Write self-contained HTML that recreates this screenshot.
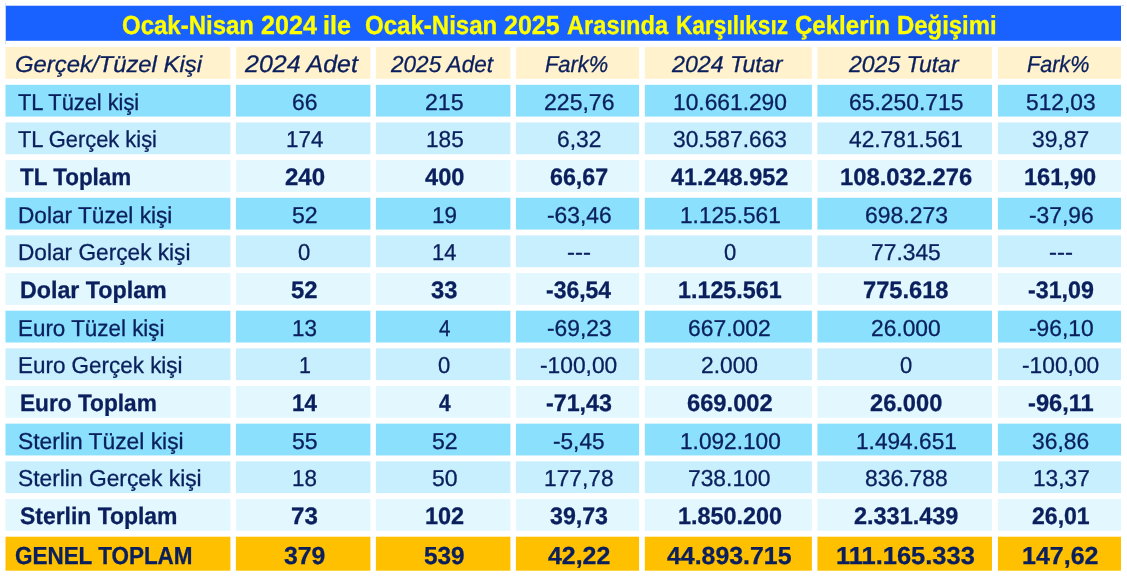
<!DOCTYPE html>
<html><head><meta charset="utf-8"><title>Karşılıksız Çekler</title>
<style>
html,body{margin:0;padding:0;background:#fff;}
body{width:1127px;height:576px;position:relative;overflow:hidden;font-family:"Liberation Sans",sans-serif;color:#0a1f5c;text-rendering:geometricPrecision;}
.c{position:absolute;}
.t{position:absolute;white-space:nowrap;line-height:0;height:0;width:0;}
.t span{position:absolute;left:0;white-space:nowrap;}
#tx{position:absolute;left:0;top:0;width:1127px;height:576px;will-change:transform;-webkit-text-stroke:0.3px currentColor;}
</style></head><body>

<svg class="c" style="left:0;top:0" width="1127" height="576" viewBox="0 0 1127 576"><rect x="5.00" y="5.00" width="1119.00" height="1.00" fill="#d2e0ff"/><rect x="5.00" y="3.00" width="1.00" height="41.00" fill="#d2e0ff"/><rect x="5.90" y="5.90" width="1115.10" height="34.90" fill="#1a62ff"/><rect x="5.50" y="47.00" width="224.90" height="31.80" fill="#fff2cc"/><rect x="235.90" y="47.00" width="134.50" height="31.80" fill="#fff2cc"/><rect x="375.90" y="47.00" width="134.50" height="31.80" fill="#fff2cc"/><rect x="515.90" y="47.00" width="123.20" height="31.80" fill="#fff2cc"/><rect x="644.80" y="47.00" width="167.10" height="31.80" fill="#fff2cc"/><rect x="817.40" y="47.00" width="174.60" height="31.80" fill="#fff2cc"/><rect x="997.90" y="47.00" width="123.10" height="31.80" fill="#fff2cc"/><rect x="5.50" y="84.80" width="224.90" height="31.80" fill="#8ae0fd"/><rect x="235.90" y="84.80" width="134.50" height="31.80" fill="#8ae0fd"/><rect x="375.90" y="84.80" width="134.50" height="31.80" fill="#8ae0fd"/><rect x="515.90" y="84.80" width="123.20" height="31.80" fill="#8ae0fd"/><rect x="644.80" y="84.80" width="167.10" height="31.80" fill="#8ae0fd"/><rect x="817.40" y="84.80" width="174.60" height="31.80" fill="#8ae0fd"/><rect x="997.90" y="84.80" width="123.10" height="31.80" fill="#8ae0fd"/><rect x="5.50" y="122.45" width="224.90" height="31.80" fill="#c8effe"/><rect x="235.90" y="122.45" width="134.50" height="31.80" fill="#c8effe"/><rect x="375.90" y="122.45" width="134.50" height="31.80" fill="#c8effe"/><rect x="515.90" y="122.45" width="123.20" height="31.80" fill="#c8effe"/><rect x="644.80" y="122.45" width="167.10" height="31.80" fill="#c8effe"/><rect x="817.40" y="122.45" width="174.60" height="31.80" fill="#c8effe"/><rect x="997.90" y="122.45" width="123.10" height="31.80" fill="#c8effe"/><rect x="5.50" y="160.10" width="224.90" height="31.80" fill="#e2f7fe"/><rect x="235.90" y="160.10" width="134.50" height="31.80" fill="#e2f7fe"/><rect x="375.90" y="160.10" width="134.50" height="31.80" fill="#e2f7fe"/><rect x="515.90" y="160.10" width="123.20" height="31.80" fill="#e2f7fe"/><rect x="644.80" y="160.10" width="167.10" height="31.80" fill="#e2f7fe"/><rect x="817.40" y="160.10" width="174.60" height="31.80" fill="#e2f7fe"/><rect x="997.90" y="160.10" width="123.10" height="31.80" fill="#e2f7fe"/><rect x="5.50" y="197.75" width="224.90" height="31.80" fill="#8ae0fd"/><rect x="235.90" y="197.75" width="134.50" height="31.80" fill="#8ae0fd"/><rect x="375.90" y="197.75" width="134.50" height="31.80" fill="#8ae0fd"/><rect x="515.90" y="197.75" width="123.20" height="31.80" fill="#8ae0fd"/><rect x="644.80" y="197.75" width="167.10" height="31.80" fill="#8ae0fd"/><rect x="817.40" y="197.75" width="174.60" height="31.80" fill="#8ae0fd"/><rect x="997.90" y="197.75" width="123.10" height="31.80" fill="#8ae0fd"/><rect x="5.50" y="235.40" width="224.90" height="31.80" fill="#c8effe"/><rect x="235.90" y="235.40" width="134.50" height="31.80" fill="#c8effe"/><rect x="375.90" y="235.40" width="134.50" height="31.80" fill="#c8effe"/><rect x="515.90" y="235.40" width="123.20" height="31.80" fill="#c8effe"/><rect x="644.80" y="235.40" width="167.10" height="31.80" fill="#c8effe"/><rect x="817.40" y="235.40" width="174.60" height="31.80" fill="#c8effe"/><rect x="997.90" y="235.40" width="123.10" height="31.80" fill="#c8effe"/><rect x="5.50" y="273.05" width="224.90" height="31.80" fill="#e2f7fe"/><rect x="235.90" y="273.05" width="134.50" height="31.80" fill="#e2f7fe"/><rect x="375.90" y="273.05" width="134.50" height="31.80" fill="#e2f7fe"/><rect x="515.90" y="273.05" width="123.20" height="31.80" fill="#e2f7fe"/><rect x="644.80" y="273.05" width="167.10" height="31.80" fill="#e2f7fe"/><rect x="817.40" y="273.05" width="174.60" height="31.80" fill="#e2f7fe"/><rect x="997.90" y="273.05" width="123.10" height="31.80" fill="#e2f7fe"/><rect x="5.50" y="310.70" width="224.90" height="31.80" fill="#8ae0fd"/><rect x="235.90" y="310.70" width="134.50" height="31.80" fill="#8ae0fd"/><rect x="375.90" y="310.70" width="134.50" height="31.80" fill="#8ae0fd"/><rect x="515.90" y="310.70" width="123.20" height="31.80" fill="#8ae0fd"/><rect x="644.80" y="310.70" width="167.10" height="31.80" fill="#8ae0fd"/><rect x="817.40" y="310.70" width="174.60" height="31.80" fill="#8ae0fd"/><rect x="997.90" y="310.70" width="123.10" height="31.80" fill="#8ae0fd"/><rect x="5.50" y="348.35" width="224.90" height="31.80" fill="#c8effe"/><rect x="235.90" y="348.35" width="134.50" height="31.80" fill="#c8effe"/><rect x="375.90" y="348.35" width="134.50" height="31.80" fill="#c8effe"/><rect x="515.90" y="348.35" width="123.20" height="31.80" fill="#c8effe"/><rect x="644.80" y="348.35" width="167.10" height="31.80" fill="#c8effe"/><rect x="817.40" y="348.35" width="174.60" height="31.80" fill="#c8effe"/><rect x="997.90" y="348.35" width="123.10" height="31.80" fill="#c8effe"/><rect x="5.50" y="386.00" width="224.90" height="31.80" fill="#e2f7fe"/><rect x="235.90" y="386.00" width="134.50" height="31.80" fill="#e2f7fe"/><rect x="375.90" y="386.00" width="134.50" height="31.80" fill="#e2f7fe"/><rect x="515.90" y="386.00" width="123.20" height="31.80" fill="#e2f7fe"/><rect x="644.80" y="386.00" width="167.10" height="31.80" fill="#e2f7fe"/><rect x="817.40" y="386.00" width="174.60" height="31.80" fill="#e2f7fe"/><rect x="997.90" y="386.00" width="123.10" height="31.80" fill="#e2f7fe"/><rect x="5.50" y="423.65" width="224.90" height="31.80" fill="#8ae0fd"/><rect x="235.90" y="423.65" width="134.50" height="31.80" fill="#8ae0fd"/><rect x="375.90" y="423.65" width="134.50" height="31.80" fill="#8ae0fd"/><rect x="515.90" y="423.65" width="123.20" height="31.80" fill="#8ae0fd"/><rect x="644.80" y="423.65" width="167.10" height="31.80" fill="#8ae0fd"/><rect x="817.40" y="423.65" width="174.60" height="31.80" fill="#8ae0fd"/><rect x="997.90" y="423.65" width="123.10" height="31.80" fill="#8ae0fd"/><rect x="5.50" y="461.30" width="224.90" height="31.80" fill="#c8effe"/><rect x="235.90" y="461.30" width="134.50" height="31.80" fill="#c8effe"/><rect x="375.90" y="461.30" width="134.50" height="31.80" fill="#c8effe"/><rect x="515.90" y="461.30" width="123.20" height="31.80" fill="#c8effe"/><rect x="644.80" y="461.30" width="167.10" height="31.80" fill="#c8effe"/><rect x="817.40" y="461.30" width="174.60" height="31.80" fill="#c8effe"/><rect x="997.90" y="461.30" width="123.10" height="31.80" fill="#c8effe"/><rect x="5.50" y="498.95" width="224.90" height="31.80" fill="#e2f7fe"/><rect x="235.90" y="498.95" width="134.50" height="31.80" fill="#e2f7fe"/><rect x="375.90" y="498.95" width="134.50" height="31.80" fill="#e2f7fe"/><rect x="515.90" y="498.95" width="123.20" height="31.80" fill="#e2f7fe"/><rect x="644.80" y="498.95" width="167.10" height="31.80" fill="#e2f7fe"/><rect x="817.40" y="498.95" width="174.60" height="31.80" fill="#e2f7fe"/><rect x="997.90" y="498.95" width="123.10" height="31.80" fill="#e2f7fe"/><rect x="5.50" y="536.70" width="224.90" height="34.00" fill="#ffc000"/><rect x="235.90" y="536.70" width="134.50" height="34.00" fill="#ffc000"/><rect x="375.90" y="536.70" width="134.50" height="34.00" fill="#ffc000"/><rect x="515.90" y="536.70" width="123.20" height="34.00" fill="#ffc000"/><rect x="644.80" y="536.70" width="167.10" height="34.00" fill="#ffc000"/><rect x="817.40" y="536.70" width="174.60" height="34.00" fill="#ffc000"/><rect x="997.90" y="536.70" width="123.10" height="34.00" fill="#ffc000"/></svg>
<div id="tx">
<div class="t" id="tT_0" style="left:122.00px;top:24.92px"><span style="font-size:26.20px;font-weight:bold;font-style:normal;color:#ffff00;transform:scaleX(0.9160);transform-origin:0 0">Ocak-Nisan</span></div>
<div class="t" id="tT_1" style="left:261.19px;top:24.92px"><span style="font-size:26.20px;font-weight:bold;font-style:normal;color:#ffff00;transform:scaleX(0.9595);transform-origin:0 0">2024</span></div>
<div class="t" id="tT_2" style="left:323.28px;top:24.92px"><span style="font-size:26.20px;font-weight:bold;font-style:normal;color:#ffff00;transform:scaleX(0.9576);transform-origin:0 0">ile</span></div>
<div class="t" id="tT_3" style="left:364.79px;top:24.92px"><span style="font-size:26.20px;font-weight:bold;font-style:normal;color:#ffff00;transform:scaleX(0.9175);transform-origin:0 0">Ocak-Nisan</span></div>
<div class="t" id="tT_4" style="left:503.54px;top:24.92px"><span style="font-size:26.20px;font-weight:bold;font-style:normal;color:#ffff00;transform:scaleX(0.9557);transform-origin:0 0">2025</span></div>
<div class="t" id="tT_5" style="left:566.63px;top:24.92px"><span style="font-size:26.20px;font-weight:bold;font-style:normal;color:#ffff00;transform:scaleX(0.9022);transform-origin:0 0">Arasında</span></div>
<div class="t" id="tT_6" style="left:675.87px;top:24.92px"><span style="font-size:26.20px;font-weight:bold;font-style:normal;color:#ffff00;transform:scaleX(0.8651);transform-origin:0 0">Karşılıksız</span></div>
<div class="t" id="tT_7" style="left:794.81px;top:24.92px"><span style="font-size:26.20px;font-weight:bold;font-style:normal;color:#ffff00;transform:scaleX(0.9184);transform-origin:0 0">Çeklerin</span></div>
<div class="t" id="tT_8" style="left:896.68px;top:24.92px"><span style="font-size:26.20px;font-weight:bold;font-style:normal;color:#ffff00;transform:scaleX(0.9132);transform-origin:0 0">Değişimi</span></div>
<div class="t" id="t0_0" style="left:15.02px;top:64.03px"><span style="font-size:23.00px;font-weight:normal;font-style:italic;transform:scaleX(1.0377);transform-origin:0 0">Gerçek/Tüzel Kişi</span></div>
<div class="t" id="t0_1" style="left:245.32px;top:64.71px"><span style="font-size:23.92px;font-weight:normal;font-style:italic;transform:scaleX(1.0438);transform-origin:0 0">2024 Adet</span></div>
<div class="t" id="t0_2" style="left:390.72px;top:64.03px"><span style="font-size:23.00px;font-weight:normal;font-style:italic;transform:scaleX(0.9807);transform-origin:0 0">2025 Adet</span></div>
<div class="t" id="t0_3" style="left:545.15px;top:64.03px"><span style="font-size:23.00px;font-weight:normal;font-style:italic;transform:scaleX(0.9507);transform-origin:0 0">Fark%</span></div>
<div class="t" id="t0_4" style="left:672.33px;top:64.03px"><span style="font-size:23.00px;font-weight:normal;font-style:italic;transform:scaleX(1.0078);transform-origin:0 0">2024 Tutar</span></div>
<div class="t" id="t0_5" style="left:848.72px;top:64.03px"><span style="font-size:23.00px;font-weight:normal;font-style:italic;transform:scaleX(1.0004);transform-origin:0 0">2025 Tutar</span></div>
<div class="t" id="t0_6" style="left:1027.20px;top:64.03px"><span style="font-size:23.00px;font-weight:normal;font-style:italic;transform:scaleX(0.9383);transform-origin:0 0">Fark%</span></div>
<div class="t" id="t1_0" style="left:18.39px;top:102.03px"><span style="font-size:23.00px;font-weight:normal;font-style:normal;transform:scaleX(0.9484);transform-origin:0 0">TL Tüzel kişi</span></div>
<div class="t" id="t1_1" style="left:291.72px;top:102.03px"><span style="font-size:23.00px;font-weight:normal;font-style:normal;transform:scaleX(0.9950);transform-origin:0 0">66</span></div>
<div class="t" id="t1_2" style="left:424.88px;top:102.03px"><span style="font-size:23.00px;font-weight:normal;font-style:normal;transform:scaleX(1.0055);transform-origin:0 0">215</span></div>
<div class="t" id="t1_3" style="left:543.76px;top:102.03px"><span style="font-size:23.00px;font-weight:normal;font-style:normal;transform:scaleX(1.0021);transform-origin:0 0">225,76</span></div>
<div class="t" id="t1_4" style="left:672.80px;top:102.03px"><span style="font-size:23.00px;font-weight:normal;font-style:normal;transform:scaleX(0.9898);transform-origin:0 0">10.661.290</span></div>
<div class="t" id="t1_5" style="left:848.73px;top:102.03px"><span style="font-size:23.00px;font-weight:normal;font-style:normal;transform:scaleX(0.9933);transform-origin:0 0">65.250.715</span></div>
<div class="t" id="t1_6" style="left:1025.56px;top:102.03px"><span style="font-size:23.00px;font-weight:normal;font-style:normal;transform:scaleX(0.9897);transform-origin:0 0">512,03</span></div>
<div class="t" id="t2_0" style="left:18.39px;top:139.03px"><span style="font-size:23.00px;font-weight:normal;font-style:normal;transform:scaleX(0.9509);transform-origin:0 0">TL Gerçek kişi</span></div>
<div class="t" id="t2_1" style="left:285.89px;top:139.03px"><span style="font-size:23.00px;font-weight:normal;font-style:normal;transform:scaleX(0.9729);transform-origin:0 0">174</span></div>
<div class="t" id="t2_2" style="left:425.87px;top:139.03px"><span style="font-size:23.00px;font-weight:normal;font-style:normal;transform:scaleX(0.9831);transform-origin:0 0">185</span></div>
<div class="t" id="t2_3" style="left:556.67px;top:139.03px"><span style="font-size:23.00px;font-weight:normal;font-style:normal;transform:scaleX(0.9909);transform-origin:0 0">6,32</span></div>
<div class="t" id="t2_4" style="left:672.72px;top:139.03px"><span style="font-size:23.00px;font-weight:normal;font-style:normal;transform:scaleX(0.9906);transform-origin:0 0">30.587.663</span></div>
<div class="t" id="t2_5" style="left:849.41px;top:139.03px"><span style="font-size:23.00px;font-weight:normal;font-style:normal;transform:scaleX(0.9890);transform-origin:0 0">42.781.561</span></div>
<div class="t" id="t2_6" style="left:1032.25px;top:139.03px"><span style="font-size:23.00px;font-weight:normal;font-style:normal;transform:scaleX(0.9940);transform-origin:0 0">39,87</span></div>
<div class="t" id="t3_0" style="left:19.83px;top:177.72px"><span style="font-size:23.90px;font-weight:bold;font-style:normal;transform:scaleX(0.9383);transform-origin:0 0">TL Toplam</span></div>
<div class="t" id="t3_1" style="left:285.21px;top:177.72px"><span style="font-size:23.90px;font-weight:bold;font-style:normal;transform:scaleX(1.0062);transform-origin:0 0">240</span></div>
<div class="t" id="t3_2" style="left:425.11px;top:177.72px"><span style="font-size:23.90px;font-weight:bold;font-style:normal;transform:scaleX(0.9883);transform-origin:0 0">400</span></div>
<div class="t" id="t3_3" style="left:549.87px;top:177.72px"><span style="font-size:23.90px;font-weight:bold;font-style:normal;transform:scaleX(0.9714);transform-origin:0 0">66,67</span></div>
<div class="t" id="t3_4" style="left:671.01px;top:177.72px"><span style="font-size:23.90px;font-weight:bold;font-style:normal;transform:scaleX(0.9802);transform-origin:0 0">41.248.952</span></div>
<div class="t" id="t3_5" style="left:840.25px;top:177.72px"><span style="font-size:23.90px;font-weight:bold;font-style:normal;transform:scaleX(0.9948);transform-origin:0 0">108.032.276</span></div>
<div class="t" id="t3_6" style="left:1024.31px;top:177.72px"><span style="font-size:23.90px;font-weight:bold;font-style:normal;transform:scaleX(0.9872);transform-origin:0 0">161,90</span></div>
<div class="t" id="t4_0" style="left:18.36px;top:215.03px"><span style="font-size:23.00px;font-weight:normal;font-style:normal;transform:scaleX(0.9846);transform-origin:0 0">Dolar Tüzel kişi</span></div>
<div class="t" id="t4_1" style="left:291.56px;top:215.03px"><span style="font-size:23.00px;font-weight:normal;font-style:normal;transform:scaleX(1.0052);transform-origin:0 0">52</span></div>
<div class="t" id="t4_2" style="left:432.30px;top:215.03px"><span style="font-size:23.00px;font-weight:normal;font-style:normal;transform:scaleX(0.9770);transform-origin:0 0">19</span></div>
<div class="t" id="t4_3" style="left:546.67px;top:215.03px"><span style="font-size:23.00px;font-weight:normal;font-style:normal;transform:scaleX(0.9899);transform-origin:0 0">-63,46</span></div>
<div class="t" id="t4_4" style="left:679.71px;top:215.03px"><span style="font-size:23.00px;font-weight:normal;font-style:normal;transform:scaleX(0.9854);transform-origin:0 0">1.125.561</span></div>
<div class="t" id="t4_5" style="left:864.64px;top:215.03px"><span style="font-size:23.00px;font-weight:normal;font-style:normal;transform:scaleX(0.9969);transform-origin:0 0">698.273</span></div>
<div class="t" id="t4_6" style="left:1028.55px;top:215.03px"><span style="font-size:23.00px;font-weight:normal;font-style:normal;transform:scaleX(0.9925);transform-origin:0 0">-37,96</span></div>
<div class="t" id="t5_0" style="left:18.36px;top:252.03px"><span style="font-size:23.00px;font-weight:normal;font-style:normal;transform:scaleX(0.9851);transform-origin:0 0">Dolar Gerçek kişi</span></div>
<div class="t" id="t5_1" style="left:298.23px;top:252.03px"><span style="font-size:23.00px;font-weight:normal;font-style:normal;transform:scaleX(0.9584);transform-origin:0 0">0</span></div>
<div class="t" id="t5_2" style="left:432.34px;top:252.03px"><span style="font-size:23.00px;font-weight:normal;font-style:normal;transform:scaleX(0.9513);transform-origin:0 0">14</span></div>
<div class="t" id="t5_3" style="left:566.99px;top:252.03px"><span style="font-size:23.00px;font-weight:normal;font-style:normal;transform:scaleX(1.0390);transform-origin:0 0">---</span></div>
<div class="t" id="t5_4" style="left:723.62px;top:252.03px"><span style="font-size:23.00px;font-weight:normal;font-style:normal;transform:scaleX(0.9584);transform-origin:0 0">0</span></div>
<div class="t" id="t5_5" style="left:871.10px;top:252.03px"><span style="font-size:23.00px;font-weight:normal;font-style:normal;transform:scaleX(0.9925);transform-origin:0 0">77.345</span></div>
<div class="t" id="t5_6" style="left:1048.87px;top:252.03px"><span style="font-size:23.00px;font-weight:normal;font-style:normal;transform:scaleX(1.0390);transform-origin:0 0">---</span></div>
<div class="t" id="t6_0" style="left:19.93px;top:290.72px"><span style="font-size:23.90px;font-weight:bold;font-style:normal;transform:scaleX(0.9723);transform-origin:0 0">Dolar Toplam</span></div>
<div class="t" id="t6_1" style="left:291.28px;top:290.72px"><span style="font-size:23.90px;font-weight:bold;font-style:normal;transform:scaleX(0.9985);transform-origin:0 0">52</span></div>
<div class="t" id="t6_2" style="left:431.44px;top:290.72px"><span style="font-size:23.90px;font-weight:bold;font-style:normal;transform:scaleX(0.9927);transform-origin:0 0">33</span></div>
<div class="t" id="t6_3" style="left:545.92px;top:290.72px"><span style="font-size:23.90px;font-weight:bold;font-style:normal;transform:scaleX(0.9599);transform-origin:0 0">-36,54</span></div>
<div class="t" id="t6_4" style="left:678.26px;top:290.72px"><span style="font-size:23.90px;font-weight:bold;font-style:normal;transform:scaleX(0.9750);transform-origin:0 0">1.125.561</span></div>
<div class="t" id="t6_5" style="left:863.20px;top:290.72px"><span style="font-size:23.90px;font-weight:bold;font-style:normal;transform:scaleX(0.9903);transform-origin:0 0">775.618</span></div>
<div class="t" id="t6_6" style="left:1027.79px;top:290.72px"><span style="font-size:23.90px;font-weight:bold;font-style:normal;transform:scaleX(0.9723);transform-origin:0 0">-31,09</span></div>
<div class="t" id="t7_0" style="left:18.38px;top:328.03px"><span style="font-size:23.00px;font-weight:normal;font-style:normal;transform:scaleX(0.9740);transform-origin:0 0">Euro Tüzel kişi</span></div>
<div class="t" id="t7_1" style="left:292.30px;top:328.03px"><span style="font-size:23.00px;font-weight:normal;font-style:normal;transform:scaleX(0.9750);transform-origin:0 0">13</span></div>
<div class="t" id="t7_2" style="left:438.82px;top:328.03px"><span style="font-size:23.00px;font-weight:normal;font-style:normal;transform:scaleX(0.8936);transform-origin:0 0">4</span></div>
<div class="t" id="t7_3" style="left:546.67px;top:328.03px"><span style="font-size:23.00px;font-weight:normal;font-style:normal;transform:scaleX(0.9899);transform-origin:0 0">-69,23</span></div>
<div class="t" id="t7_4" style="left:688.38px;top:328.03px"><span style="font-size:23.00px;font-weight:normal;font-style:normal;transform:scaleX(0.9939);transform-origin:0 0">667.002</span></div>
<div class="t" id="t7_5" style="left:871.13px;top:328.03px"><span style="font-size:23.00px;font-weight:normal;font-style:normal;transform:scaleX(0.9899);transform-origin:0 0">26.000</span></div>
<div class="t" id="t7_6" style="left:1028.56px;top:328.03px"><span style="font-size:23.00px;font-weight:normal;font-style:normal;transform:scaleX(0.9912);transform-origin:0 0">-96,10</span></div>
<div class="t" id="t8_0" style="left:18.38px;top:365.03px"><span style="font-size:23.00px;font-weight:normal;font-style:normal;transform:scaleX(0.9753);transform-origin:0 0">Euro Gerçek kişi</span></div>
<div class="t" id="t8_1" style="left:298.79px;top:365.03px"><span style="font-size:23.00px;font-weight:normal;font-style:normal;transform:scaleX(0.9332);transform-origin:0 0">1</span></div>
<div class="t" id="t8_2" style="left:438.23px;top:365.03px"><span style="font-size:23.00px;font-weight:normal;font-style:normal;transform:scaleX(0.9584);transform-origin:0 0">0</span></div>
<div class="t" id="t8_3" style="left:540.25px;top:365.03px"><span style="font-size:23.00px;font-weight:normal;font-style:normal;transform:scaleX(0.9904);transform-origin:0 0">-100,00</span></div>
<div class="t" id="t8_4" style="left:701.29px;top:365.03px"><span style="font-size:23.00px;font-weight:normal;font-style:normal;transform:scaleX(0.9908);transform-origin:0 0">2.000</span></div>
<div class="t" id="t8_5" style="left:899.98px;top:365.03px"><span style="font-size:23.00px;font-weight:normal;font-style:normal;transform:scaleX(0.9554);transform-origin:0 0">0</span></div>
<div class="t" id="t8_6" style="left:1022.14px;top:365.03px"><span style="font-size:23.00px;font-weight:normal;font-style:normal;transform:scaleX(0.9904);transform-origin:0 0">-100,00</span></div>
<div class="t" id="t9_0" style="left:19.97px;top:403.72px"><span style="font-size:23.90px;font-weight:bold;font-style:normal;transform:scaleX(0.9486);transform-origin:0 0">Euro Toplam</span></div>
<div class="t" id="t9_1" style="left:292.01px;top:403.72px"><span style="font-size:23.90px;font-weight:bold;font-style:normal;transform:scaleX(0.9393);transform-origin:0 0">14</span></div>
<div class="t" id="t9_2" style="left:438.54px;top:403.72px"><span style="font-size:23.90px;font-weight:bold;font-style:normal;transform:scaleX(0.8751);transform-origin:0 0">4</span></div>
<div class="t" id="t9_3" style="left:545.90px;top:403.72px"><span style="font-size:23.90px;font-weight:bold;font-style:normal;transform:scaleX(0.9724);transform-origin:0 0">-71,43</span></div>
<div class="t" id="t9_4" style="left:686.92px;top:403.72px"><span style="font-size:23.90px;font-weight:bold;font-style:normal;transform:scaleX(0.9922);transform-origin:0 0">669.002</span></div>
<div class="t" id="t9_5" style="left:870.07px;top:403.72px"><span style="font-size:23.90px;font-weight:bold;font-style:normal;transform:scaleX(0.9895);transform-origin:0 0">26.000</span></div>
<div class="t" id="t9_6" style="left:1027.78px;top:403.72px"><span style="font-size:23.90px;font-weight:bold;font-style:normal;transform:scaleX(0.9901);transform-origin:0 0">-96,11</span></div>
<div class="t" id="t10_0" style="left:17.74px;top:441.03px"><span style="font-size:23.00px;font-weight:normal;font-style:normal;transform:scaleX(0.9917);transform-origin:0 0">Sterlin Tüzel kişi</span></div>
<div class="t" id="t10_1" style="left:291.57px;top:441.03px"><span style="font-size:23.00px;font-weight:normal;font-style:normal;transform:scaleX(1.0035);transform-origin:0 0">55</span></div>
<div class="t" id="t10_2" style="left:431.56px;top:441.03px"><span style="font-size:23.00px;font-weight:normal;font-style:normal;transform:scaleX(1.0052);transform-origin:0 0">52</span></div>
<div class="t" id="t10_3" style="left:553.09px;top:441.03px"><span style="font-size:23.00px;font-weight:normal;font-style:normal;transform:scaleX(0.9830);transform-origin:0 0">-5,45</span></div>
<div class="t" id="t10_4" style="left:679.71px;top:441.03px"><span style="font-size:23.00px;font-weight:normal;font-style:normal;transform:scaleX(0.9845);transform-origin:0 0">1.092.100</span></div>
<div class="t" id="t10_5" style="left:855.94px;top:441.03px"><span style="font-size:23.00px;font-weight:normal;font-style:normal;transform:scaleX(0.9856);transform-origin:0 0">1.494.651</span></div>
<div class="t" id="t10_6" style="left:1032.25px;top:441.03px"><span style="font-size:23.00px;font-weight:normal;font-style:normal;transform:scaleX(0.9925);transform-origin:0 0">36,86</span></div>
<div class="t" id="t11_0" style="left:18.04px;top:478.03px"><span style="font-size:23.00px;font-weight:normal;font-style:normal;transform:scaleX(0.9911);transform-origin:0 0">Sterlin Gerçek kişi</span></div>
<div class="t" id="t11_1" style="left:292.30px;top:478.03px"><span style="font-size:23.00px;font-weight:normal;font-style:normal;transform:scaleX(0.9740);transform-origin:0 0">18</span></div>
<div class="t" id="t11_2" style="left:431.57px;top:478.03px"><span style="font-size:23.00px;font-weight:normal;font-style:normal;transform:scaleX(1.0008);transform-origin:0 0">50</span></div>
<div class="t" id="t11_3" style="left:544.39px;top:478.03px"><span style="font-size:23.00px;font-weight:normal;font-style:normal;transform:scaleX(0.9895);transform-origin:0 0">177,78</span></div>
<div class="t" id="t11_4" style="left:688.45px;top:478.03px"><span style="font-size:23.00px;font-weight:normal;font-style:normal;transform:scaleX(0.9918);transform-origin:0 0">738.100</span></div>
<div class="t" id="t11_5" style="left:864.84px;top:478.03px"><span style="font-size:23.00px;font-weight:normal;font-style:normal;transform:scaleX(0.9943);transform-origin:0 0">836.788</span></div>
<div class="t" id="t11_6" style="left:1032.70px;top:478.03px"><span style="font-size:23.00px;font-weight:normal;font-style:normal;transform:scaleX(0.9860);transform-origin:0 0">13,37</span></div>
<div class="t" id="t12_0" style="left:19.82px;top:516.72px"><span style="font-size:23.90px;font-weight:bold;font-style:normal;transform:scaleX(0.9595);transform-origin:0 0">Sterlin Toplam</span></div>
<div class="t" id="t12_1" style="left:291.02px;top:516.72px"><span style="font-size:23.90px;font-weight:bold;font-style:normal;transform:scaleX(1.0090);transform-origin:0 0">73</span></div>
<div class="t" id="t12_2" style="left:425.25px;top:516.72px"><span style="font-size:23.90px;font-weight:bold;font-style:normal;transform:scaleX(0.9822);transform-origin:0 0">102</span></div>
<div class="t" id="t12_3" style="left:549.92px;top:516.72px"><span style="font-size:23.90px;font-weight:bold;font-style:normal;transform:scaleX(0.9693);transform-origin:0 0">39,73</span></div>
<div class="t" id="t12_4" style="left:678.26px;top:516.72px"><span style="font-size:23.90px;font-weight:bold;font-style:normal;transform:scaleX(0.9785);transform-origin:0 0">1.850.200</span></div>
<div class="t" id="t12_5" style="left:853.87px;top:516.72px"><span style="font-size:23.90px;font-weight:bold;font-style:normal;transform:scaleX(0.9821);transform-origin:0 0">2.331.439</span></div>
<div class="t" id="t12_6" style="left:1031.86px;top:516.72px"><span style="font-size:23.90px;font-weight:bold;font-style:normal;transform:scaleX(0.9647);transform-origin:0 0">26,01</span></div>
<div class="t" id="t13_0" style="left:14.76px;top:557.48px"><span style="font-size:24.60px;font-weight:bold;font-style:normal;transform:scaleX(0.9126);transform-origin:0 0">GENEL TOPLAM</span></div>
<div class="t" id="t13_1" style="left:284.30px;top:557.48px"><span style="font-size:24.60px;font-weight:bold;font-style:normal;transform:scaleX(1.0097);transform-origin:0 0">379</span></div>
<div class="t" id="t13_2" style="left:424.17px;top:557.48px"><span style="font-size:24.60px;font-weight:bold;font-style:normal;transform:scaleX(0.9905);transform-origin:0 0">539</span></div>
<div class="t" id="t13_3" style="left:547.86px;top:557.48px"><span style="font-size:24.60px;font-weight:bold;font-style:normal;transform:scaleX(1.0124);transform-origin:0 0">42,22</span></div>
<div class="t" id="t13_4" style="left:667.20px;top:557.48px"><span style="font-size:24.60px;font-weight:bold;font-style:normal;transform:scaleX(1.0111);transform-origin:0 0">44.893.715</span></div>
<div class="t" id="t13_5" style="left:836.45px;top:557.48px"><span style="font-size:24.60px;font-weight:bold;font-style:normal;transform:scaleX(1.0356);transform-origin:0 0">111.165.333</span></div>
<div class="t" id="t13_6" style="left:1021.92px;top:557.48px"><span style="font-size:24.60px;font-weight:bold;font-style:normal;transform:scaleX(1.0163);transform-origin:0 0">147,62</span></div>
</div>
</body></html>
